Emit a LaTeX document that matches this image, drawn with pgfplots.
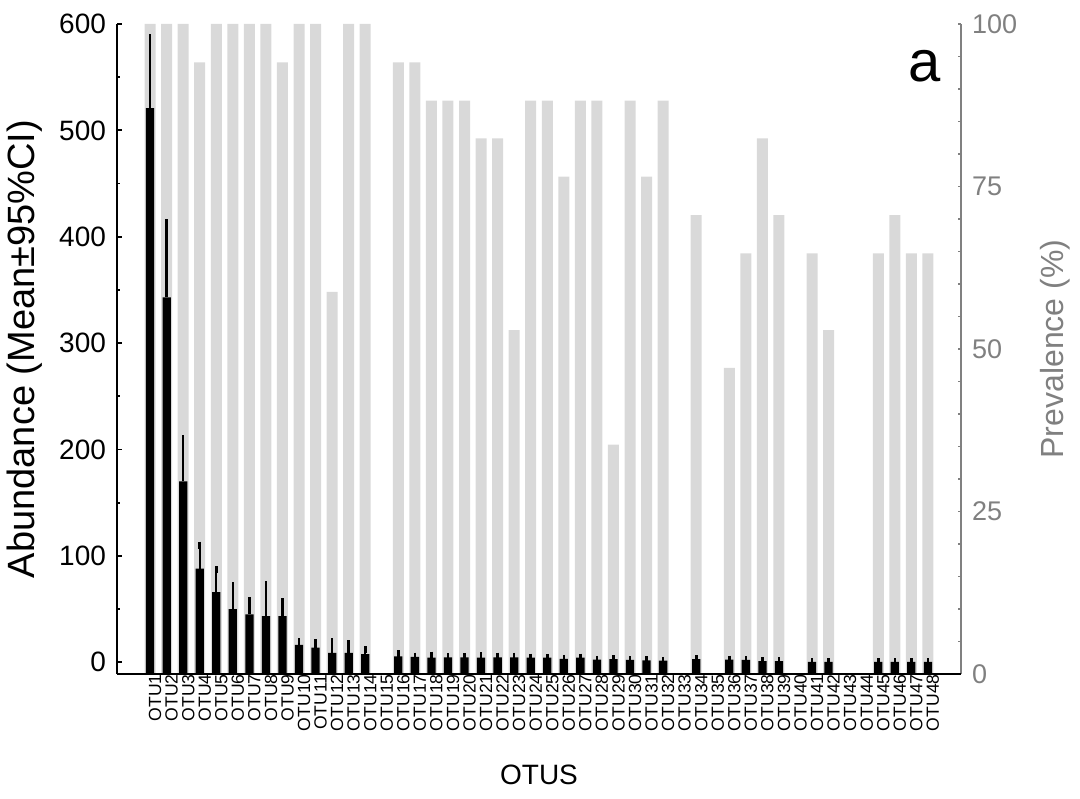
\documentclass[border=0pt]{standalone}
\usepackage{fontspec}
\setmainfont{Liberation Sans}
\usepackage{pgfplots}
\usepackage{pgfplotstable}
\pgfplotsset{compat=1.18}
\definecolor{barg}{HTML}{D9D9D9}
\definecolor{axg}{HTML}{808080}

\pgfplotstableread{
otu mean upper prev
1 521 587 100
2 343 413 100
3 170 210 100
4 88 110 94.1
5 66 87 100
6 50 72 100
7 45 58 100
8 43.5 73 100
9 43.5 57 94.1
10 16.3 19.4 100
11 13.8 18.5 100
12 8.8 19 58.8
13 8.8 17.5 100
14 7.8 11.8 100
16 5.5 7.8 94.1
17 5 5.8 94.1
18 4.5 6.6 88.2
19 4.7 5.0 88.2
20 4.7 5.0 88.2
21 4.4 6 82.4
22 4.6 5.7 82.4
23 4.6 5.8 52.9
24 4.4 4.8 88.2
25 4.4 4.6 88.2
26 3.3 3.6 76.5
27 4.4 4.8 88.2
28 2.4 2.6 88.2
29 3 3.3 35.3
30 2.2 2.4 88.2
31 1.9 2.1 76.5
32 1.5 1.7 88.2
34 3 3.3 70.6
36 2.5 2.8 47.1
37 2.2 2.4 64.7
38 1.2 1.4 82.4
39 1.2 1.4 70.6
41 0.4 0.5 64.7
42 0.4 0.5 52.9
45 0.4 0.5 64.7
46 0.4 0.5 70.6
47 0.4 0.5 64.7
48 0.4 0.5 64.7
}\data

\begin{document}
\begin{tikzpicture}
\useasboundingbox (0,0) rectangle (540pt,399pt);
% prevalence (right axis)
\begin{axis}[
  at={(58.5pt,62pt)}, anchor=south west,
  scale only axis, width=422pt, height=325pt,
  xmin=-1, xmax=50, ymin=0, ymax=100,
  axis x line=none, axis y line*=right,
  y axis line style={axg, line width=1pt},
  xtick=\empty,
  ytick={0,25,50,75,100}, minor y tick num=4,
  tick align=inside,
  major tick length=1.6pt, minor tick length=1.3pt,
  y tick style={axg, line width=0.9pt},
  yticklabel style={axg, font=\fontsize{13.5}{14}\selectfont, xshift=2pt},
  /pgf/number format/assume math mode=true,
  ylabel={Prevalence (\%)},
  every axis y label/.style={at={(axis description cs:1.112,0.5)}, rotate=90, anchor=center, axg, font=\fontsize{16}{17}\selectfont},
]
\addplot[ybar, bar width=0.665, fill=barg, draw=none] table[x=otu, y=prev]{\data};
\end{axis}
% abundance (left axis)
\begin{axis}[
  at={(58.5pt,62pt)}, anchor=south west,
  scale only axis, width=422pt, height=325pt,
  xmin=-1, xmax=50, ymin=0, ymax=611,
  axis x line*=bottom, axis y line*=left,
  axis line style={black, line width=1pt},
  xtick={1,...,48},
  xticklabels={OTU1,OTU2,OTU3,OTU4,OTU5,OTU6,OTU7,OTU8,OTU9,OTU10,OTU11,OTU12,OTU13,OTU14,OTU15,OTU16,OTU17,OTU18,OTU19,OTU20,OTU21,OTU22,OTU23,OTU24,OTU25,OTU26,OTU27,OTU28,OTU29,OTU30,OTU31,OTU32,OTU33,OTU34,OTU35,OTU36,OTU37,OTU38,OTU39,OTU40,OTU41,OTU42,OTU43,OTU44,OTU45,OTU46,OTU47,OTU48},
  x tick style={draw=none},
  xticklabel style={rotate=90, anchor=east, font=\fontsize{8.8}{9}\selectfont, inner sep=0pt, yshift=-2.5pt},
  ytick={11,111,211,311,411,511,611},
  yticklabels={0,100,200,300,400,500,600},
  minor ytick={61,161,261,361,461,561},
  tick align=inside,
  major tick length=2.5pt, minor tick length=1.3pt,
  y tick style={black, line width=0.9pt},
  yticklabel style={font=\fontsize{14}{15}\selectfont, xshift=-2pt},
  ylabel={Abundance (Mean±95\%CI)},
  every axis y label/.style={at={(axis description cs:-0.109,0.5)}, rotate=90, anchor=center, font=\fontsize{19}{20}\selectfont},
  xlabel={OTUS},
  every axis x label/.style={at={(axis description cs:0.5,-0.155)}, anchor=center, font=\fontsize{14}{15}\selectfont},
]
\addplot[ybar, bar width=0.5, fill=black, draw=none,
  error bars/.cd, y dir=plus, y explicit,
  error bar style={line width=1.2pt, black},
  error mark options={line width=1.3pt, mark size=1.8pt, black}]
  table[x=otu, y expr=\thisrow{mean}+11, y error expr=\thisrow{upper}-\thisrow{mean}]{\data};
\node[font=\fontsize{29}{29}\selectfont, anchor=base] at (axis description cs:0.957,0.911) {a};
\end{axis}
\end{tikzpicture}
\end{document}
